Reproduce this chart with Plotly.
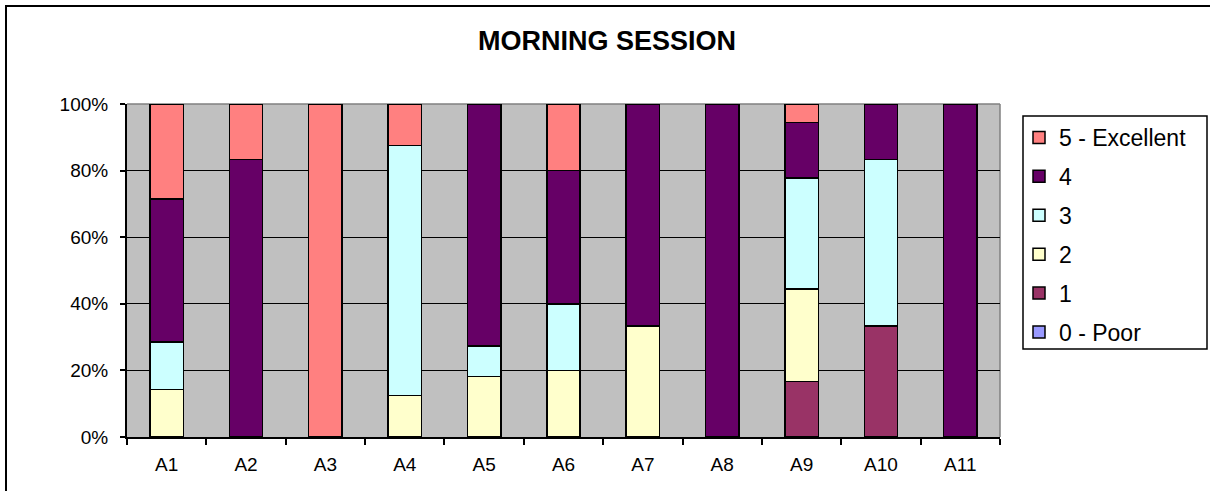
import plotly.graph_objects as go

categories = ["A1", "A2", "A3", "A4", "A5", "A6", "A7", "A8", "A9", "A10", "A11"]
series_names = ["0 - Poor", "1", "2", "3", "4", "5 - Excellent"]
rating_0 = [0, 0, 0, 0, 0, 0, 0, 0, 0, 0, 0]
rating_1 = [0, 0, 0, 0, 0, 0, 0, 0, 3, 2, 0]
rating_2 = [1, 0, 0, 1, 2, 1, 1, 0, 5, 0, 0]
rating_3 = [1, 0, 0, 6, 1, 1, 0, 0, 6, 3, 0]
rating_4 = [3, 5, 0, 0, 8, 2, 2, 1, 3, 1, 1]
rating_5 = [2, 1, 1, 1, 0, 1, 0, 0, 1, 0, 0]
series_colors = ["#9999FF", "#993366", "#FFFFCC", "#CCFFFF", "#660066", "#FF8080"]
y_tick_vals = [0, 20, 40, 60, 80, 100]
y_tick_text = ["0%", "20%", "40%", "60%", "80%", "100%"]

W, H = 1210, 491
# plot area in px
L, R, T, B = 127, 1000, 104, 437


def px_x(p):
    return (p - L) / (R - L)


def px_y(p):
    return (B - p) / (B - T)


FONT = "Liberation Sans, Arial, sans-serif"

fig = go.Figure()
all_series = [rating_0, rating_1, rating_2, rating_3, rating_4, rating_5]
n = len(all_series)
for i, (name, vals, col) in enumerate(zip(series_names, all_series, series_colors)):
    fig.add_trace(go.Bar(
        x=categories,
        y=[v if v else None for v in vals],
        name=name,
        legendgroup=name,
        legendrank=n - i,
        marker=dict(color=col, line=dict(color="black", width=1.5)),
    ))

shapes = [
    # outer chart border
    dict(type="rect", xref="paper", yref="paper",
         x0=px_x(6), x1=px_x(1240), y0=px_y(530), y1=px_y(6),
         line=dict(color="black", width=2), fillcolor="rgba(0,0,0,0)", layer="below"),
    # top and right plot border (gray)
    dict(type="line", xref="paper", yref="paper", x0=0, x1=1, y0=1, y1=1,
         line=dict(color="#808080", width=1.5), layer="between"),
    dict(type="line", xref="paper", yref="paper", x0=1, x1=1, y0=0, y1=1,
         line=dict(color="#808080", width=1.5), layer="between"),
    # legend box
    dict(type="rect", xref="paper", yref="paper",
         x0=px_x(1023), x1=px_x(1207), y0=px_y(349), y1=px_y(116),
         line=dict(color="black", width=1.5), fillcolor="white", layer="below"),
]

fig.update_layout(
    width=W, height=H,
    margin=dict(l=L, r=W - R, t=T, b=H - B, pad=0),
    paper_bgcolor="white",
    plot_bgcolor="#C0C0C0",
    barmode="stack",
    barnorm="percent",
    bargap=0.58,
    font=dict(family=FONT, color="black", size=19),
    title=dict(text="<b>MORNING SESSION</b>", x=607 / W, xref="container",
               y=1 - 41 / H, yref="container", yanchor="middle", xanchor="center",
               font=dict(family=FONT, size=27, color="black")),
    showlegend=True,
    legend=dict(x=px_x(1019), y=px_y(116), xanchor="left", yanchor="top",
                traceorder="grouped", tracegroupgap=6,
                bgcolor="rgba(0,0,0,0)", borderwidth=0,
                font=dict(family=FONT, size=23, color="black")),
    xaxis=dict(type="category", categoryorder="array", categoryarray=categories,
               showline=True, linecolor="black", linewidth=2,
               ticks="outside", tickson="boundaries", ticklen=6, tickwidth=1.5,
               tickcolor="black", showgrid=False,
               tickfont=dict(family=FONT, size=19), ticklabelstandoff=9),
    yaxis=dict(range=[0, 100], tickvals=y_tick_vals, ticktext=y_tick_text,
               showline=True, linecolor="black", linewidth=2,
               ticks="outside", ticklen=5, tickwidth=1.5, tickcolor="black",
               showgrid=True, gridcolor="black", gridwidth=1.2, zeroline=False,
               tickfont=dict(family=FONT, size=19), ticklabelstandoff=8),
    shapes=shapes,
)

fig.write_html("out.html", config={"displayModeBar": False},
               post_script="document.body.style.margin='0';document.body.style.overflow='hidden';")
